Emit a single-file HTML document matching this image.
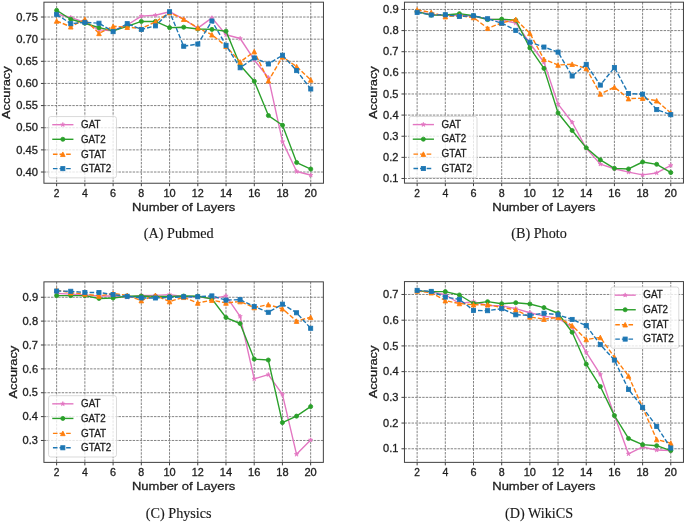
<!DOCTYPE html>
<html><head><meta charset="utf-8"><title>Accuracy vs Number of Layers</title>
<style>
html,body{margin:0;padding:0;background:#fff;}
body{width:685px;height:522px;overflow:hidden;}
svg{display:block;}
svg text{font-family:"Liberation Sans", sans-serif;fill:#1e1e1e;stroke:#1e1e1e;stroke-width:0.3px;}
svg text.cap{font-family:"Liberation Serif", serif;fill:#1a1a1a;stroke:#1a1a1a;stroke-width:0.15px;}
</style></head><body>
<svg width="685" height="522" viewBox="0 0 685 522">
<defs><filter id="bl" filterUnits="userSpaceOnUse" x="0" y="0" width="685" height="522"><feGaussianBlur stdDeviation="0.5"/></filter></defs>
<rect width="685" height="522" fill="#fff"/>
<g filter="url(#bl)">
<path d="M56.64 2.18V183.24 M84.87 2.18V183.24 M113.11 2.18V183.24 M141.35 2.18V183.24 M169.58 2.18V183.24 M197.82 2.18V183.24 M226.05 2.18V183.24 M254.29 2.18V183.24 M282.53 2.18V183.24 M310.76 2.18V183.24 M43.93 172.02H323.47 M43.93 149.88H323.47 M43.93 127.73H323.47 M43.93 105.59H323.47 M43.93 83.45H323.47 M43.93 61.31H323.47 M43.93 39.16H323.47 M43.93 17.02H323.47" stroke="#767676" stroke-width="0.9" stroke-dasharray="2.45,1.1" fill="none"/>
<clipPath id="clip0"><rect x="43.93" y="2.18" width="279.54" height="181.06"/></clipPath>
<g clip-path="url(#clip0)">
<path d="M56.64 13.92 L70.75 17.46 L84.87 22.33 L98.99 29.86 L113.11 30.75 L127.23 24.99 L141.35 16.13 L155.46 15.25 L169.58 11.71 L183.7 19.23 L197.82 28.09 L211.94 17.91 L226.05 34.73 L240.17 38.5 L254.29 59.98 L268.41 77.69 L282.53 141.6 L296.65 171.53 L310.76 175.12" stroke="#e377c2" stroke-width="1.4" fill="none" stroke-linejoin="round" stroke-linecap="square"/>
<polygon points="56.64,11.62 56.12,13.21 54.45,13.21 55.8,14.19 55.28,15.78 56.64,14.8 57.99,15.78 57.47,14.19 58.82,13.21 57.15,13.21" fill="#e377c2" stroke="#e377c2" stroke-width="0.68"/>
<polygon points="70.75,15.16 70.24,16.75 68.57,16.75 69.92,17.73 69.4,19.32 70.75,18.34 72.11,19.32 71.59,17.73 72.94,16.75 71.27,16.75" fill="#e377c2" stroke="#e377c2" stroke-width="0.68"/>
<polygon points="84.87,20.03 84.36,21.62 82.69,21.62 84.04,22.61 83.52,24.2 84.87,23.21 86.22,24.2 85.71,22.61 87.06,21.62 85.39,21.62" fill="#e377c2" stroke="#e377c2" stroke-width="0.68"/>
<polygon points="98.99,27.56 98.47,29.15 96.8,29.15 98.16,30.13 97.64,31.72 98.99,30.74 100.34,31.72 99.83,30.13 101.18,29.15 99.51,29.15" fill="#e377c2" stroke="#e377c2" stroke-width="0.68"/>
<polygon points="113.11,28.45 112.59,30.04 110.92,30.04 112.27,31.02 111.76,32.61 113.11,31.63 114.46,32.61 113.94,31.02 115.3,30.04 113.63,30.04" fill="#e377c2" stroke="#e377c2" stroke-width="0.68"/>
<polygon points="127.23,22.69 126.71,24.28 125.04,24.28 126.39,25.26 125.88,26.85 127.23,25.87 128.58,26.85 128.06,25.26 129.41,24.28 127.74,24.28" fill="#e377c2" stroke="#e377c2" stroke-width="0.68"/>
<polygon points="141.35,13.83 140.83,15.42 139.16,15.42 140.51,16.41 139.99,18 141.35,17.01 142.7,18 142.18,16.41 143.53,15.42 141.86,15.42" fill="#e377c2" stroke="#e377c2" stroke-width="0.68"/>
<polygon points="155.46,12.95 154.95,14.54 153.28,14.54 154.63,15.52 154.11,17.11 155.46,16.13 156.82,17.11 156.3,15.52 157.65,14.54 155.98,14.54" fill="#e377c2" stroke="#e377c2" stroke-width="0.68"/>
<polygon points="169.58,9.41 169.07,10.99 167.39,10.99 168.75,11.98 168.23,13.57 169.58,12.58 170.93,13.57 170.42,11.98 171.77,10.99 170.1,10.99" fill="#e377c2" stroke="#e377c2" stroke-width="0.68"/>
<polygon points="183.7,16.93 183.18,18.52 181.51,18.52 182.86,19.51 182.35,21.1 183.7,20.11 185.05,21.1 184.54,19.51 185.89,18.52 184.22,18.52" fill="#e377c2" stroke="#e377c2" stroke-width="0.68"/>
<polygon points="197.82,25.79 197.3,27.38 195.63,27.38 196.98,28.36 196.47,29.95 197.82,28.97 199.17,29.95 198.65,28.36 200.01,27.38 198.33,27.38" fill="#e377c2" stroke="#e377c2" stroke-width="0.68"/>
<polygon points="211.94,15.61 211.42,17.19 209.75,17.19 211.1,18.18 210.58,19.77 211.94,18.78 213.29,19.77 212.77,18.18 214.12,17.19 212.45,17.19" fill="#e377c2" stroke="#e377c2" stroke-width="0.68"/>
<polygon points="226.05,32.43 225.54,34.02 223.87,34.02 225.22,35.01 224.7,36.6 226.05,35.61 227.41,36.6 226.89,35.01 228.24,34.02 226.57,34.02" fill="#e377c2" stroke="#e377c2" stroke-width="0.68"/>
<polygon points="240.17,36.2 239.66,37.79 237.99,37.79 239.34,38.77 238.82,40.36 240.17,39.38 241.52,40.36 241.01,38.77 242.36,37.79 240.69,37.79" fill="#e377c2" stroke="#e377c2" stroke-width="0.68"/>
<polygon points="254.29,57.68 253.77,59.27 252.1,59.27 253.46,60.25 252.94,61.84 254.29,60.86 255.64,61.84 255.13,60.25 256.48,59.27 254.81,59.27" fill="#e377c2" stroke="#e377c2" stroke-width="0.68"/>
<polygon points="268.41,75.39 267.89,76.98 266.22,76.98 267.57,77.96 267.06,79.55 268.41,78.57 269.76,79.55 269.24,77.96 270.6,76.98 268.93,76.98" fill="#e377c2" stroke="#e377c2" stroke-width="0.68"/>
<polygon points="282.53,139.3 282.01,140.88 280.34,140.88 281.69,141.87 281.18,143.46 282.53,142.47 283.88,143.46 283.36,141.87 284.71,140.88 283.04,140.88" fill="#e377c2" stroke="#e377c2" stroke-width="0.68"/>
<polygon points="296.65,169.23 296.13,170.82 294.46,170.82 295.81,171.8 295.29,173.39 296.65,172.41 298,173.39 297.48,171.8 298.83,170.82 297.16,170.82" fill="#e377c2" stroke="#e377c2" stroke-width="0.68"/>
<polygon points="310.76,172.82 310.25,174.41 308.58,174.41 309.93,175.39 309.41,176.98 310.76,176 312.12,176.98 311.6,175.39 312.95,174.41 311.28,174.41" fill="#e377c2" stroke="#e377c2" stroke-width="0.68"/>
<path d="M56.64 10.38 L70.75 19.23 L84.87 23.22 L98.99 27.65 L113.11 30.75 L127.23 26.32 L141.35 21.45 L155.46 21.45 L169.58 27.65 L183.7 27.21 L197.82 28.98 L211.94 29.42 L226.05 31.19 L240.17 65.29 L254.29 81.23 L268.41 115.56 L282.53 125.21 L296.65 162.54 L310.76 169.1" stroke="#2ca02c" stroke-width="1.4" fill="none" stroke-linejoin="round" stroke-linecap="square"/>
<circle cx="56.64" cy="10.38" r="2.05" fill="#2ca02c" stroke="#2ca02c" stroke-width="0.85"/>
<circle cx="70.75" cy="19.23" r="2.05" fill="#2ca02c" stroke="#2ca02c" stroke-width="0.85"/>
<circle cx="84.87" cy="23.22" r="2.05" fill="#2ca02c" stroke="#2ca02c" stroke-width="0.85"/>
<circle cx="98.99" cy="27.65" r="2.05" fill="#2ca02c" stroke="#2ca02c" stroke-width="0.85"/>
<circle cx="113.11" cy="30.75" r="2.05" fill="#2ca02c" stroke="#2ca02c" stroke-width="0.85"/>
<circle cx="127.23" cy="26.32" r="2.05" fill="#2ca02c" stroke="#2ca02c" stroke-width="0.85"/>
<circle cx="141.35" cy="21.45" r="2.05" fill="#2ca02c" stroke="#2ca02c" stroke-width="0.85"/>
<circle cx="155.46" cy="21.45" r="2.05" fill="#2ca02c" stroke="#2ca02c" stroke-width="0.85"/>
<circle cx="169.58" cy="27.65" r="2.05" fill="#2ca02c" stroke="#2ca02c" stroke-width="0.85"/>
<circle cx="183.7" cy="27.21" r="2.05" fill="#2ca02c" stroke="#2ca02c" stroke-width="0.85"/>
<circle cx="197.82" cy="28.98" r="2.05" fill="#2ca02c" stroke="#2ca02c" stroke-width="0.85"/>
<circle cx="211.94" cy="29.42" r="2.05" fill="#2ca02c" stroke="#2ca02c" stroke-width="0.85"/>
<circle cx="226.05" cy="31.19" r="2.05" fill="#2ca02c" stroke="#2ca02c" stroke-width="0.85"/>
<circle cx="240.17" cy="65.29" r="2.05" fill="#2ca02c" stroke="#2ca02c" stroke-width="0.85"/>
<circle cx="254.29" cy="81.23" r="2.05" fill="#2ca02c" stroke="#2ca02c" stroke-width="0.85"/>
<circle cx="268.41" cy="115.56" r="2.05" fill="#2ca02c" stroke="#2ca02c" stroke-width="0.85"/>
<circle cx="282.53" cy="125.21" r="2.05" fill="#2ca02c" stroke="#2ca02c" stroke-width="0.85"/>
<circle cx="296.65" cy="162.54" r="2.05" fill="#2ca02c" stroke="#2ca02c" stroke-width="0.85"/>
<circle cx="310.76" cy="169.1" r="2.05" fill="#2ca02c" stroke="#2ca02c" stroke-width="0.85"/>
<path d="M56.64 21.01 L70.75 26.76 L84.87 19.23 L98.99 33.41 L113.11 26.32 L127.23 27.21 L141.35 28.53 L155.46 21.89 L169.58 12.59 L183.7 19.23 L197.82 27.87 L211.94 34.73 L226.05 46.25 L240.17 61.97 L254.29 51.56 L268.41 80.79 L282.53 56.88 L296.65 66.62 L310.76 79.91" stroke="#ff7f0e" stroke-width="1.4" fill="none" stroke-linejoin="round" stroke-dasharray="4.6,2.0"/>
<polygon points="56.64,18.71 54.34,23.3 58.93,23.3" fill="#ff7f0e" stroke="#ff7f0e" stroke-width="0.85"/>
<polygon points="70.75,24.47 68.46,29.06 73.05,29.06" fill="#ff7f0e" stroke="#ff7f0e" stroke-width="0.85"/>
<polygon points="84.87,16.94 82.58,21.53 87.17,21.53" fill="#ff7f0e" stroke="#ff7f0e" stroke-width="0.85"/>
<polygon points="98.99,31.11 96.69,35.7 101.29,35.7" fill="#ff7f0e" stroke="#ff7f0e" stroke-width="0.85"/>
<polygon points="113.11,24.02 110.81,28.62 115.41,28.62" fill="#ff7f0e" stroke="#ff7f0e" stroke-width="0.85"/>
<polygon points="127.23,24.91 124.93,29.5 129.52,29.5" fill="#ff7f0e" stroke="#ff7f0e" stroke-width="0.85"/>
<polygon points="141.35,26.24 139.05,30.83 143.64,30.83" fill="#ff7f0e" stroke="#ff7f0e" stroke-width="0.85"/>
<polygon points="155.46,19.6 153.17,24.19 157.76,24.19" fill="#ff7f0e" stroke="#ff7f0e" stroke-width="0.85"/>
<polygon points="169.58,10.3 167.29,14.89 171.88,14.89" fill="#ff7f0e" stroke="#ff7f0e" stroke-width="0.85"/>
<polygon points="183.7,16.94 181.4,21.53 186,21.53" fill="#ff7f0e" stroke="#ff7f0e" stroke-width="0.85"/>
<polygon points="197.82,25.57 195.52,30.17 200.11,30.17" fill="#ff7f0e" stroke="#ff7f0e" stroke-width="0.85"/>
<polygon points="211.94,32.44 209.64,37.03 214.23,37.03" fill="#ff7f0e" stroke="#ff7f0e" stroke-width="0.85"/>
<polygon points="226.05,43.95 223.76,48.54 228.35,48.54" fill="#ff7f0e" stroke="#ff7f0e" stroke-width="0.85"/>
<polygon points="240.17,59.67 237.88,64.27 242.47,64.27" fill="#ff7f0e" stroke="#ff7f0e" stroke-width="0.85"/>
<polygon points="254.29,49.27 251.99,53.86 256.59,53.86" fill="#ff7f0e" stroke="#ff7f0e" stroke-width="0.85"/>
<polygon points="268.41,78.5 266.11,83.09 270.71,83.09" fill="#ff7f0e" stroke="#ff7f0e" stroke-width="0.85"/>
<polygon points="282.53,54.58 280.23,59.17 284.82,59.17" fill="#ff7f0e" stroke="#ff7f0e" stroke-width="0.85"/>
<polygon points="296.65,64.32 294.35,68.92 298.94,68.92" fill="#ff7f0e" stroke="#ff7f0e" stroke-width="0.85"/>
<polygon points="310.76,77.61 308.47,82.2 313.06,82.2" fill="#ff7f0e" stroke="#ff7f0e" stroke-width="0.85"/>
<path d="M56.64 14.36 L70.75 23.66 L84.87 22.33 L98.99 23.22 L113.11 31.63 L127.23 23.66 L141.35 29.42 L155.46 25.88 L169.58 11.71 L183.7 46.25 L197.82 44.03 L211.94 21.01 L226.05 45.36 L240.17 67.77 L254.29 57.94 L268.41 63.96 L282.53 55.24 L296.65 70.61 L310.76 88.98" stroke="#1f77b4" stroke-width="1.4" fill="none" stroke-linejoin="round" stroke-dasharray="4.6,2.0"/>
<rect x="54.59" y="12.31" width="4.1" height="4.1" fill="#1f77b4" stroke="#1f77b4" stroke-width="0.85"/>
<rect x="68.7" y="21.61" width="4.1" height="4.1" fill="#1f77b4" stroke="#1f77b4" stroke-width="0.85"/>
<rect x="82.82" y="20.28" width="4.1" height="4.1" fill="#1f77b4" stroke="#1f77b4" stroke-width="0.85"/>
<rect x="96.94" y="21.17" width="4.1" height="4.1" fill="#1f77b4" stroke="#1f77b4" stroke-width="0.85"/>
<rect x="111.06" y="29.58" width="4.1" height="4.1" fill="#1f77b4" stroke="#1f77b4" stroke-width="0.85"/>
<rect x="125.18" y="21.61" width="4.1" height="4.1" fill="#1f77b4" stroke="#1f77b4" stroke-width="0.85"/>
<rect x="139.3" y="27.37" width="4.1" height="4.1" fill="#1f77b4" stroke="#1f77b4" stroke-width="0.85"/>
<rect x="153.41" y="23.83" width="4.1" height="4.1" fill="#1f77b4" stroke="#1f77b4" stroke-width="0.85"/>
<rect x="167.53" y="9.66" width="4.1" height="4.1" fill="#1f77b4" stroke="#1f77b4" stroke-width="0.85"/>
<rect x="181.65" y="44.2" width="4.1" height="4.1" fill="#1f77b4" stroke="#1f77b4" stroke-width="0.85"/>
<rect x="195.77" y="41.98" width="4.1" height="4.1" fill="#1f77b4" stroke="#1f77b4" stroke-width="0.85"/>
<rect x="209.89" y="18.96" width="4.1" height="4.1" fill="#1f77b4" stroke="#1f77b4" stroke-width="0.85"/>
<rect x="224" y="43.31" width="4.1" height="4.1" fill="#1f77b4" stroke="#1f77b4" stroke-width="0.85"/>
<rect x="238.12" y="65.72" width="4.1" height="4.1" fill="#1f77b4" stroke="#1f77b4" stroke-width="0.85"/>
<rect x="252.24" y="55.89" width="4.1" height="4.1" fill="#1f77b4" stroke="#1f77b4" stroke-width="0.85"/>
<rect x="266.36" y="61.91" width="4.1" height="4.1" fill="#1f77b4" stroke="#1f77b4" stroke-width="0.85"/>
<rect x="280.48" y="53.19" width="4.1" height="4.1" fill="#1f77b4" stroke="#1f77b4" stroke-width="0.85"/>
<rect x="294.6" y="68.56" width="4.1" height="4.1" fill="#1f77b4" stroke="#1f77b4" stroke-width="0.85"/>
<rect x="308.71" y="86.93" width="4.1" height="4.1" fill="#1f77b4" stroke="#1f77b4" stroke-width="0.85"/>
</g>
<rect x="43.93" y="2.18" width="279.54" height="181.06" fill="none" stroke="#404040" stroke-width="1.0"/>
<path d="M56.64 183.24v3 M84.87 183.24v3 M113.11 183.24v3 M141.35 183.24v3 M169.58 183.24v3 M197.82 183.24v3 M226.05 183.24v3 M254.29 183.24v3 M282.53 183.24v3 M310.76 183.24v3 M43.93 172.02h-3 M43.93 149.88h-3 M43.93 127.73h-3 M43.93 105.59h-3 M43.93 83.45h-3 M43.93 61.31h-3 M43.93 39.16h-3 M43.93 17.02h-3" stroke="#404040" stroke-width="1.0" fill="none"/>
<text x="53.68" y="196.79" font-size="10.6" textLength="5.65" lengthAdjust="spacingAndGlyphs">2</text>
<text x="81.94" y="196.79" font-size="10.6" textLength="5.86" lengthAdjust="spacingAndGlyphs">4</text>
<text x="110.07" y="196.79" font-size="10.6" textLength="6.07" lengthAdjust="spacingAndGlyphs">6</text>
<text x="138.38" y="196.79" font-size="10.6" textLength="5.93" lengthAdjust="spacingAndGlyphs">8</text>
<text x="163.48" y="196.79" font-size="10.6" textLength="12.23" lengthAdjust="spacingAndGlyphs">10</text>
<text x="191.73" y="196.79" font-size="10.6" textLength="11.99" lengthAdjust="spacingAndGlyphs">12</text>
<text x="219.95" y="196.79" font-size="10.6" textLength="12.22" lengthAdjust="spacingAndGlyphs">14</text>
<text x="248.18" y="196.79" font-size="10.6" textLength="12.33" lengthAdjust="spacingAndGlyphs">16</text>
<text x="276.42" y="196.79" font-size="10.6" textLength="12.26" lengthAdjust="spacingAndGlyphs">18</text>
<text x="304.58" y="196.79" font-size="10.6" textLength="12.32" lengthAdjust="spacingAndGlyphs">20</text>
<text x="16.24" y="175.67" font-size="10.6" textLength="21.82" lengthAdjust="spacingAndGlyphs">0.40</text>
<text x="16.24" y="153.53" font-size="10.6" textLength="21.63" lengthAdjust="spacingAndGlyphs">0.45</text>
<text x="16.24" y="131.38" font-size="10.6" textLength="21.82" lengthAdjust="spacingAndGlyphs">0.50</text>
<text x="16.24" y="109.24" font-size="10.6" textLength="21.63" lengthAdjust="spacingAndGlyphs">0.55</text>
<text x="16.24" y="87.1" font-size="10.6" textLength="21.82" lengthAdjust="spacingAndGlyphs">0.60</text>
<text x="16.24" y="64.96" font-size="10.6" textLength="21.63" lengthAdjust="spacingAndGlyphs">0.65</text>
<text x="16.24" y="42.81" font-size="10.6" textLength="21.82" lengthAdjust="spacingAndGlyphs">0.70</text>
<text x="16.24" y="20.67" font-size="10.6" textLength="21.63" lengthAdjust="spacingAndGlyphs">0.75</text>
<text x="132" y="210.79" font-size="11.7" textLength="103.37" lengthAdjust="spacingAndGlyphs">Number of Layers</text>
<text transform="translate(10.31 92.71) rotate(-90)" x="-26.39" y="0" font-size="11.7" textLength="52.78" lengthAdjust="spacingAndGlyphs">Accuracy</text>
<rect x="48.58" y="116.54" width="67.9" height="61.3" rx="2.2" ry="2.2" fill="#fff" fill-opacity="0.8" stroke="#d6d6d6" stroke-width="0.9"/>
<path d="M52.93 124.69H72.73" stroke="#e377c2" stroke-width="1.4" fill="none" stroke-linecap="square"/>
<polygon points="62.83,122.39 62.31,123.98 60.64,123.98 61.99,124.96 61.48,126.55 62.83,125.57 64.18,126.55 63.67,124.96 65.02,123.98 63.35,123.98" fill="#e377c2" stroke="#e377c2" stroke-width="0.68"/>
<text x="81.03" y="127.99" font-size="10" textLength="19.45" lengthAdjust="spacingAndGlyphs">GAT</text>
<path d="M52.93 139.29H72.73" stroke="#2ca02c" stroke-width="1.4" fill="none" stroke-linecap="square"/>
<circle cx="62.83" cy="139.29" r="2.05" fill="#2ca02c" stroke="#2ca02c" stroke-width="0.85"/>
<text x="81.03" y="142.59" font-size="10" textLength="24.66" lengthAdjust="spacingAndGlyphs">GAT2</text>
<path d="M52.93 154.24H72.73" stroke="#ff7f0e" stroke-width="1.4" fill="none" stroke-dasharray="4.6,2.0"/>
<polygon points="62.83,151.94 60.53,156.54 65.13,156.54" fill="#ff7f0e" stroke="#ff7f0e" stroke-width="0.85"/>
<text x="81.03" y="157.54" font-size="10" textLength="25.13" lengthAdjust="spacingAndGlyphs">GTAT</text>
<path d="M52.93 168.64H72.73" stroke="#1f77b4" stroke-width="1.4" fill="none" stroke-dasharray="4.6,2.0"/>
<rect x="60.78" y="166.59" width="4.1" height="4.1" fill="#1f77b4" stroke="#1f77b4" stroke-width="0.85"/>
<text x="81.03" y="171.94" font-size="10" textLength="30.34" lengthAdjust="spacingAndGlyphs">GTAT2</text>
<text x="178.7" y="238" font-size="14.2" text-anchor="middle" class="cap">(A) Pubmed</text>
<path d="M417.14 2.18V183.13 M445.32 2.18V183.13 M473.51 2.18V183.13 M501.69 2.18V183.13 M529.87 2.18V183.13 M558.05 2.18V183.13 M586.23 2.18V183.13 M614.41 2.18V183.13 M642.6 2.18V183.13 M670.78 2.18V183.13 M404.46 178.48H683.46 M404.46 157.35H683.46 M404.46 136.22H683.46 M404.46 115.09H683.46 M404.46 93.97H683.46 M404.46 72.84H683.46 M404.46 51.71H683.46 M404.46 30.58H683.46 M404.46 9.45H683.46" stroke="#767676" stroke-width="0.9" stroke-dasharray="2.45,1.1" fill="none"/>
<clipPath id="clip1"><rect x="404.46" y="2.18" width="279" height="180.95"/></clipPath>
<g clip-path="url(#clip1)">
<path d="M417.14 11.56 L431.23 14.52 L445.32 15.37 L459.41 14.94 L473.51 16.21 L487.6 18.96 L501.69 20.01 L515.78 22.97 L529.87 43.26 L543.96 62.27 L558.05 104.11 L572.14 122.28 L586.23 148.27 L600.32 164.11 L614.41 168.76 L628.51 172.14 L642.6 174.89 L656.69 172.99 L670.78 165.38" stroke="#e377c2" stroke-width="1.4" fill="none" stroke-linejoin="round" stroke-linecap="square"/>
<polygon points="417.14,9.26 416.63,10.85 414.95,10.85 416.31,11.83 415.79,13.42 417.14,12.44 418.49,13.42 417.98,11.83 419.33,10.85 417.66,10.85" fill="#e377c2" stroke="#e377c2" stroke-width="0.68"/>
<polygon points="431.23,12.22 430.72,13.81 429.05,13.81 430.4,14.79 429.88,16.38 431.23,15.4 432.58,16.38 432.07,14.79 433.42,13.81 431.75,13.81" fill="#e377c2" stroke="#e377c2" stroke-width="0.68"/>
<polygon points="445.32,13.07 444.81,14.66 443.14,14.66 444.49,15.64 443.97,17.23 445.32,16.24 446.68,17.23 446.16,15.64 447.51,14.66 445.84,14.66" fill="#e377c2" stroke="#e377c2" stroke-width="0.68"/>
<polygon points="459.41,12.64 458.9,14.23 457.23,14.23 458.58,15.21 458.06,16.8 459.41,15.82 460.77,16.8 460.25,15.21 461.6,14.23 459.93,14.23" fill="#e377c2" stroke="#e377c2" stroke-width="0.68"/>
<polygon points="473.51,13.91 472.99,15.5 471.32,15.5 472.67,16.48 472.15,18.07 473.51,17.09 474.86,18.07 474.34,16.48 475.69,15.5 474.02,15.5" fill="#e377c2" stroke="#e377c2" stroke-width="0.68"/>
<polygon points="487.6,16.66 487.08,18.25 485.41,18.25 486.76,19.23 486.24,20.82 487.6,19.84 488.95,20.82 488.43,19.23 489.78,18.25 488.11,18.25" fill="#e377c2" stroke="#e377c2" stroke-width="0.68"/>
<polygon points="501.69,17.71 501.17,19.3 499.5,19.3 500.85,20.29 500.34,21.88 501.69,20.89 503.04,21.88 502.52,20.29 503.87,19.3 502.2,19.3" fill="#e377c2" stroke="#e377c2" stroke-width="0.68"/>
<polygon points="515.78,20.67 515.26,22.26 513.59,22.26 514.94,23.24 514.43,24.83 515.78,23.85 517.13,24.83 516.61,23.24 517.97,22.26 516.29,22.26" fill="#e377c2" stroke="#e377c2" stroke-width="0.68"/>
<polygon points="529.87,40.96 529.35,42.55 527.68,42.55 529.03,43.53 528.52,45.12 529.87,44.13 531.22,45.12 530.7,43.53 532.06,42.55 530.39,42.55" fill="#e377c2" stroke="#e377c2" stroke-width="0.68"/>
<polygon points="543.96,59.97 543.44,61.56 541.77,61.56 543.12,62.54 542.61,64.13 543.96,63.15 545.31,64.13 544.8,62.54 546.15,61.56 544.48,61.56" fill="#e377c2" stroke="#e377c2" stroke-width="0.68"/>
<polygon points="558.05,101.81 557.53,103.4 555.86,103.4 557.22,104.38 556.7,105.97 558.05,104.99 559.4,105.97 558.89,104.38 560.24,103.4 558.57,103.4" fill="#e377c2" stroke="#e377c2" stroke-width="0.68"/>
<polygon points="572.14,119.98 571.63,121.57 569.95,121.57 571.31,122.55 570.79,124.14 572.14,123.16 573.49,124.14 572.98,122.55 574.33,121.57 572.66,121.57" fill="#e377c2" stroke="#e377c2" stroke-width="0.68"/>
<polygon points="586.23,145.97 585.72,147.56 584.05,147.56 585.4,148.54 584.88,150.13 586.23,149.14 587.58,150.13 587.07,148.54 588.42,147.56 586.75,147.56" fill="#e377c2" stroke="#e377c2" stroke-width="0.68"/>
<polygon points="600.32,161.81 599.81,163.4 598.14,163.4 599.49,164.38 598.97,165.97 600.32,164.99 601.68,165.97 601.16,164.38 602.51,163.4 600.84,163.4" fill="#e377c2" stroke="#e377c2" stroke-width="0.68"/>
<polygon points="614.41,166.46 613.9,168.05 612.23,168.05 613.58,169.03 613.06,170.62 614.41,169.64 615.77,170.62 615.25,169.03 616.6,168.05 614.93,168.05" fill="#e377c2" stroke="#e377c2" stroke-width="0.68"/>
<polygon points="628.51,169.84 627.99,171.43 626.32,171.43 627.67,172.41 627.15,174 628.51,173.02 629.86,174 629.34,172.41 630.69,171.43 629.02,171.43" fill="#e377c2" stroke="#e377c2" stroke-width="0.68"/>
<polygon points="642.6,172.59 642.08,174.18 640.41,174.18 641.76,175.16 641.24,176.75 642.6,175.77 643.95,176.75 643.43,175.16 644.78,174.18 643.11,174.18" fill="#e377c2" stroke="#e377c2" stroke-width="0.68"/>
<polygon points="656.69,170.69 656.17,172.28 654.5,172.28 655.85,173.26 655.34,174.85 656.69,173.87 658.04,174.85 657.52,173.26 658.87,172.28 657.2,172.28" fill="#e377c2" stroke="#e377c2" stroke-width="0.68"/>
<polygon points="670.78,163.08 670.26,164.67 668.59,164.67 669.94,165.65 669.43,167.24 670.78,166.26 672.13,167.24 671.61,165.65 672.97,164.67 671.29,164.67" fill="#e377c2" stroke="#e377c2" stroke-width="0.68"/>
<path d="M417.14 11.56 L431.23 15.15 L445.32 14.94 L459.41 13.68 L473.51 15.79 L487.6 19.59 L501.69 19.17 L515.78 20.23 L529.87 47.9 L543.96 68.4 L558.05 112.98 L572.14 130.52 L586.23 147.84 L600.32 159.89 L614.41 168.34 L628.51 168.97 L642.6 162 L656.69 164.32 L670.78 172.56" stroke="#2ca02c" stroke-width="1.4" fill="none" stroke-linejoin="round" stroke-linecap="square"/>
<circle cx="417.14" cy="11.56" r="2.05" fill="#2ca02c" stroke="#2ca02c" stroke-width="0.85"/>
<circle cx="431.23" cy="15.15" r="2.05" fill="#2ca02c" stroke="#2ca02c" stroke-width="0.85"/>
<circle cx="445.32" cy="14.94" r="2.05" fill="#2ca02c" stroke="#2ca02c" stroke-width="0.85"/>
<circle cx="459.41" cy="13.68" r="2.05" fill="#2ca02c" stroke="#2ca02c" stroke-width="0.85"/>
<circle cx="473.51" cy="15.79" r="2.05" fill="#2ca02c" stroke="#2ca02c" stroke-width="0.85"/>
<circle cx="487.6" cy="19.59" r="2.05" fill="#2ca02c" stroke="#2ca02c" stroke-width="0.85"/>
<circle cx="501.69" cy="19.17" r="2.05" fill="#2ca02c" stroke="#2ca02c" stroke-width="0.85"/>
<circle cx="515.78" cy="20.23" r="2.05" fill="#2ca02c" stroke="#2ca02c" stroke-width="0.85"/>
<circle cx="529.87" cy="47.9" r="2.05" fill="#2ca02c" stroke="#2ca02c" stroke-width="0.85"/>
<circle cx="543.96" cy="68.4" r="2.05" fill="#2ca02c" stroke="#2ca02c" stroke-width="0.85"/>
<circle cx="558.05" cy="112.98" r="2.05" fill="#2ca02c" stroke="#2ca02c" stroke-width="0.85"/>
<circle cx="572.14" cy="130.52" r="2.05" fill="#2ca02c" stroke="#2ca02c" stroke-width="0.85"/>
<circle cx="586.23" cy="147.84" r="2.05" fill="#2ca02c" stroke="#2ca02c" stroke-width="0.85"/>
<circle cx="600.32" cy="159.89" r="2.05" fill="#2ca02c" stroke="#2ca02c" stroke-width="0.85"/>
<circle cx="614.41" cy="168.34" r="2.05" fill="#2ca02c" stroke="#2ca02c" stroke-width="0.85"/>
<circle cx="628.51" cy="168.97" r="2.05" fill="#2ca02c" stroke="#2ca02c" stroke-width="0.85"/>
<circle cx="642.6" cy="162" r="2.05" fill="#2ca02c" stroke="#2ca02c" stroke-width="0.85"/>
<circle cx="656.69" cy="164.32" r="2.05" fill="#2ca02c" stroke="#2ca02c" stroke-width="0.85"/>
<circle cx="670.78" cy="172.56" r="2.05" fill="#2ca02c" stroke="#2ca02c" stroke-width="0.85"/>
<path d="M417.14 9.87 L431.23 12.41 L445.32 16.63 L459.41 15.79 L473.51 17.48 L487.6 28.25 L501.69 22.97 L515.78 19.38 L529.87 33.33 L543.96 59.31 L558.05 65.02 L572.14 64.17 L586.23 68.4 L600.32 93.97 L614.41 87.2 L628.51 98.61 L642.6 98.19 L656.69 100.73 L670.78 112.98" stroke="#ff7f0e" stroke-width="1.4" fill="none" stroke-linejoin="round" stroke-dasharray="4.6,2.0"/>
<polygon points="417.14,7.58 414.85,12.17 419.44,12.17" fill="#ff7f0e" stroke="#ff7f0e" stroke-width="0.85"/>
<polygon points="431.23,10.11 428.94,14.7 433.53,14.7" fill="#ff7f0e" stroke="#ff7f0e" stroke-width="0.85"/>
<polygon points="445.32,14.34 443.03,18.93 447.62,18.93" fill="#ff7f0e" stroke="#ff7f0e" stroke-width="0.85"/>
<polygon points="459.41,13.49 457.12,18.08 461.71,18.08" fill="#ff7f0e" stroke="#ff7f0e" stroke-width="0.85"/>
<polygon points="473.51,15.18 471.21,19.77 475.8,19.77" fill="#ff7f0e" stroke="#ff7f0e" stroke-width="0.85"/>
<polygon points="487.6,25.96 485.3,30.55 489.89,30.55" fill="#ff7f0e" stroke="#ff7f0e" stroke-width="0.85"/>
<polygon points="501.69,20.68 499.39,25.27 503.98,25.27" fill="#ff7f0e" stroke="#ff7f0e" stroke-width="0.85"/>
<polygon points="515.78,17.08 513.48,21.68 518.07,21.68" fill="#ff7f0e" stroke="#ff7f0e" stroke-width="0.85"/>
<polygon points="529.87,31.03 527.57,35.62 532.17,35.62" fill="#ff7f0e" stroke="#ff7f0e" stroke-width="0.85"/>
<polygon points="543.96,57.02 541.66,61.61 546.26,61.61" fill="#ff7f0e" stroke="#ff7f0e" stroke-width="0.85"/>
<polygon points="558.05,62.72 555.75,67.31 560.35,67.31" fill="#ff7f0e" stroke="#ff7f0e" stroke-width="0.85"/>
<polygon points="572.14,61.88 569.85,66.47 574.44,66.47" fill="#ff7f0e" stroke="#ff7f0e" stroke-width="0.85"/>
<polygon points="586.23,66.1 583.94,70.7 588.53,70.7" fill="#ff7f0e" stroke="#ff7f0e" stroke-width="0.85"/>
<polygon points="600.32,91.67 598.03,96.26 602.62,96.26" fill="#ff7f0e" stroke="#ff7f0e" stroke-width="0.85"/>
<polygon points="614.41,84.91 612.12,89.5 616.71,89.5" fill="#ff7f0e" stroke="#ff7f0e" stroke-width="0.85"/>
<polygon points="628.51,96.32 626.21,100.91 630.8,100.91" fill="#ff7f0e" stroke="#ff7f0e" stroke-width="0.85"/>
<polygon points="642.6,95.89 640.3,100.49 644.89,100.49" fill="#ff7f0e" stroke="#ff7f0e" stroke-width="0.85"/>
<polygon points="656.69,98.43 654.39,103.02 658.98,103.02" fill="#ff7f0e" stroke="#ff7f0e" stroke-width="0.85"/>
<polygon points="670.78,110.68 668.48,115.28 673.07,115.28" fill="#ff7f0e" stroke="#ff7f0e" stroke-width="0.85"/>
<path d="M417.14 12.41 L431.23 14.94 L445.32 14.73 L459.41 16.42 L473.51 15.79 L487.6 18.75 L501.69 23.18 L515.78 30.37 L529.87 42.2 L543.96 47.06 L558.05 52.13 L572.14 76.01 L586.23 64.38 L600.32 85.09 L614.41 67.55 L628.51 93.54 L642.6 94.18 L656.69 109.6 L670.78 114.67" stroke="#1f77b4" stroke-width="1.4" fill="none" stroke-linejoin="round" stroke-dasharray="4.6,2.0"/>
<rect x="415.09" y="10.36" width="4.1" height="4.1" fill="#1f77b4" stroke="#1f77b4" stroke-width="0.85"/>
<rect x="429.18" y="12.89" width="4.1" height="4.1" fill="#1f77b4" stroke="#1f77b4" stroke-width="0.85"/>
<rect x="443.27" y="12.68" width="4.1" height="4.1" fill="#1f77b4" stroke="#1f77b4" stroke-width="0.85"/>
<rect x="457.36" y="14.37" width="4.1" height="4.1" fill="#1f77b4" stroke="#1f77b4" stroke-width="0.85"/>
<rect x="471.46" y="13.74" width="4.1" height="4.1" fill="#1f77b4" stroke="#1f77b4" stroke-width="0.85"/>
<rect x="485.55" y="16.7" width="4.1" height="4.1" fill="#1f77b4" stroke="#1f77b4" stroke-width="0.85"/>
<rect x="499.64" y="21.13" width="4.1" height="4.1" fill="#1f77b4" stroke="#1f77b4" stroke-width="0.85"/>
<rect x="513.73" y="28.32" width="4.1" height="4.1" fill="#1f77b4" stroke="#1f77b4" stroke-width="0.85"/>
<rect x="527.82" y="40.15" width="4.1" height="4.1" fill="#1f77b4" stroke="#1f77b4" stroke-width="0.85"/>
<rect x="541.91" y="45.01" width="4.1" height="4.1" fill="#1f77b4" stroke="#1f77b4" stroke-width="0.85"/>
<rect x="556" y="50.08" width="4.1" height="4.1" fill="#1f77b4" stroke="#1f77b4" stroke-width="0.85"/>
<rect x="570.09" y="73.96" width="4.1" height="4.1" fill="#1f77b4" stroke="#1f77b4" stroke-width="0.85"/>
<rect x="584.18" y="62.33" width="4.1" height="4.1" fill="#1f77b4" stroke="#1f77b4" stroke-width="0.85"/>
<rect x="598.27" y="83.04" width="4.1" height="4.1" fill="#1f77b4" stroke="#1f77b4" stroke-width="0.85"/>
<rect x="612.36" y="65.5" width="4.1" height="4.1" fill="#1f77b4" stroke="#1f77b4" stroke-width="0.85"/>
<rect x="626.46" y="91.49" width="4.1" height="4.1" fill="#1f77b4" stroke="#1f77b4" stroke-width="0.85"/>
<rect x="640.55" y="92.13" width="4.1" height="4.1" fill="#1f77b4" stroke="#1f77b4" stroke-width="0.85"/>
<rect x="654.64" y="107.55" width="4.1" height="4.1" fill="#1f77b4" stroke="#1f77b4" stroke-width="0.85"/>
<rect x="668.73" y="112.62" width="4.1" height="4.1" fill="#1f77b4" stroke="#1f77b4" stroke-width="0.85"/>
</g>
<rect x="404.46" y="2.18" width="279" height="180.95" fill="none" stroke="#404040" stroke-width="1.0"/>
<path d="M417.14 183.13v3 M445.32 183.13v3 M473.51 183.13v3 M501.69 183.13v3 M529.87 183.13v3 M558.05 183.13v3 M586.23 183.13v3 M614.41 183.13v3 M642.6 183.13v3 M670.78 183.13v3 M404.46 178.48h-3 M404.46 157.35h-3 M404.46 136.22h-3 M404.46 115.09h-3 M404.46 93.97h-3 M404.46 72.84h-3 M404.46 51.71h-3 M404.46 30.58h-3 M404.46 9.45h-3" stroke="#404040" stroke-width="1.0" fill="none"/>
<text x="414.18" y="196.68" font-size="10.6" textLength="5.65" lengthAdjust="spacingAndGlyphs">2</text>
<text x="442.39" y="196.68" font-size="10.6" textLength="5.86" lengthAdjust="spacingAndGlyphs">4</text>
<text x="470.47" y="196.68" font-size="10.6" textLength="6.07" lengthAdjust="spacingAndGlyphs">6</text>
<text x="498.72" y="196.68" font-size="10.6" textLength="5.93" lengthAdjust="spacingAndGlyphs">8</text>
<text x="523.77" y="196.68" font-size="10.6" textLength="12.23" lengthAdjust="spacingAndGlyphs">10</text>
<text x="551.97" y="196.68" font-size="10.6" textLength="11.99" lengthAdjust="spacingAndGlyphs">12</text>
<text x="580.13" y="196.68" font-size="10.6" textLength="12.22" lengthAdjust="spacingAndGlyphs">14</text>
<text x="608.31" y="196.68" font-size="10.6" textLength="12.33" lengthAdjust="spacingAndGlyphs">16</text>
<text x="636.49" y="196.68" font-size="10.6" textLength="12.26" lengthAdjust="spacingAndGlyphs">18</text>
<text x="664.59" y="196.68" font-size="10.6" textLength="12.32" lengthAdjust="spacingAndGlyphs">20</text>
<text x="383.14" y="182.13" font-size="10.6" textLength="15.29" lengthAdjust="spacingAndGlyphs">0.1</text>
<text x="383.14" y="161" font-size="10.6" textLength="15.22" lengthAdjust="spacingAndGlyphs">0.2</text>
<text x="383.13" y="139.87" font-size="10.6" textLength="15.36" lengthAdjust="spacingAndGlyphs">0.3</text>
<text x="383.13" y="118.74" font-size="10.6" textLength="15.44" lengthAdjust="spacingAndGlyphs">0.4</text>
<text x="383.14" y="97.62" font-size="10.6" textLength="15.26" lengthAdjust="spacingAndGlyphs">0.5</text>
<text x="383.13" y="76.49" font-size="10.6" textLength="15.54" lengthAdjust="spacingAndGlyphs">0.6</text>
<text x="383.13" y="55.36" font-size="10.6" textLength="15.38" lengthAdjust="spacingAndGlyphs">0.7</text>
<text x="383.13" y="34.23" font-size="10.6" textLength="15.48" lengthAdjust="spacingAndGlyphs">0.8</text>
<text x="383.13" y="13.1" font-size="10.6" textLength="15.5" lengthAdjust="spacingAndGlyphs">0.9</text>
<text x="492.26" y="210.68" font-size="11.7" textLength="103.37" lengthAdjust="spacingAndGlyphs">Number of Layers</text>
<text transform="translate(377.21 92.66) rotate(-90)" x="-26.39" y="0" font-size="11.7" textLength="52.78" lengthAdjust="spacingAndGlyphs">Accuracy</text>
<rect x="409.11" y="116.43" width="67.9" height="61.3" rx="2.2" ry="2.2" fill="#fff" fill-opacity="0.8" stroke="#d6d6d6" stroke-width="0.9"/>
<path d="M413.46 124.58H433.26" stroke="#e377c2" stroke-width="1.4" fill="none" stroke-linecap="square"/>
<polygon points="423.36,122.28 422.84,123.87 421.17,123.87 422.52,124.85 422.01,126.44 423.36,125.46 424.71,126.44 424.2,124.85 425.55,123.87 423.88,123.87" fill="#e377c2" stroke="#e377c2" stroke-width="0.68"/>
<text x="441.56" y="127.88" font-size="10" textLength="19.45" lengthAdjust="spacingAndGlyphs">GAT</text>
<path d="M413.46 139.18H433.26" stroke="#2ca02c" stroke-width="1.4" fill="none" stroke-linecap="square"/>
<circle cx="423.36" cy="139.18" r="2.05" fill="#2ca02c" stroke="#2ca02c" stroke-width="0.85"/>
<text x="441.56" y="142.48" font-size="10" textLength="24.66" lengthAdjust="spacingAndGlyphs">GAT2</text>
<path d="M413.46 154.13H433.26" stroke="#ff7f0e" stroke-width="1.4" fill="none" stroke-dasharray="4.6,2.0"/>
<polygon points="423.36,151.83 421.06,156.43 425.66,156.43" fill="#ff7f0e" stroke="#ff7f0e" stroke-width="0.85"/>
<text x="441.56" y="157.43" font-size="10" textLength="25.13" lengthAdjust="spacingAndGlyphs">GTAT</text>
<path d="M413.46 168.53H433.26" stroke="#1f77b4" stroke-width="1.4" fill="none" stroke-dasharray="4.6,2.0"/>
<rect x="421.31" y="166.48" width="4.1" height="4.1" fill="#1f77b4" stroke="#1f77b4" stroke-width="0.85"/>
<text x="441.56" y="171.83" font-size="10" textLength="30.34" lengthAdjust="spacingAndGlyphs">GTAT2</text>
<text x="539" y="238" font-size="14.2" text-anchor="middle" class="cap">(B) Photo</text>
<path d="M56.63 281.86V462.38 M84.86 281.86V462.38 M113.08 281.86V462.38 M141.3 281.86V462.38 M169.53 281.86V462.38 M197.75 281.86V462.38 M225.98 281.86V462.38 M254.2 281.86V462.38 M282.42 281.86V462.38 M310.65 281.86V462.38 M43.93 440.48H323.35 M43.93 416.61H323.35 M43.93 392.74H323.35 M43.93 368.87H323.35 M43.93 344.99H323.35 M43.93 321.12H323.35 M43.93 297.25H323.35" stroke="#767676" stroke-width="0.9" stroke-dasharray="2.45,1.1" fill="none"/>
<clipPath id="clip2"><rect x="43.93" y="281.86" width="279.42" height="180.52"/></clipPath>
<g clip-path="url(#clip2)">
<path d="M56.63 293.43 L70.74 294.15 L84.86 294.86 L98.97 296.06 L113.08 296.06 L127.19 297.25 L141.3 295.34 L155.42 295.34 L169.53 294.62 L183.64 296.53 L197.75 296.53 L211.86 298.92 L225.98 295.91 L240.09 316.35 L254.2 378.89 L268.31 374.59 L282.42 394.41 L296.54 454.33 L310.65 440" stroke="#e377c2" stroke-width="1.4" fill="none" stroke-linejoin="round" stroke-linecap="square"/>
<polygon points="56.63,291.13 56.11,292.72 54.44,292.72 55.8,293.7 55.28,295.29 56.63,294.31 57.98,295.29 57.47,293.7 58.82,292.72 57.15,292.72" fill="#e377c2" stroke="#e377c2" stroke-width="0.68"/>
<polygon points="70.74,291.85 70.23,293.44 68.56,293.44 69.91,294.42 69.39,296.01 70.74,295.03 72.09,296.01 71.58,294.42 72.93,293.44 71.26,293.44" fill="#e377c2" stroke="#e377c2" stroke-width="0.68"/>
<polygon points="84.86,292.56 84.34,294.15 82.67,294.15 84.02,295.13 83.5,296.72 84.86,295.74 86.21,296.72 85.69,295.13 87.04,294.15 85.37,294.15" fill="#e377c2" stroke="#e377c2" stroke-width="0.68"/>
<polygon points="98.97,293.76 98.45,295.35 96.78,295.35 98.13,296.33 97.62,297.92 98.97,296.93 100.32,297.92 99.8,296.33 101.15,295.35 99.48,295.35" fill="#e377c2" stroke="#e377c2" stroke-width="0.68"/>
<polygon points="113.08,293.76 112.56,295.35 110.89,295.35 112.24,296.33 111.73,297.92 113.08,296.93 114.43,297.92 113.91,296.33 115.27,295.35 113.6,295.35" fill="#e377c2" stroke="#e377c2" stroke-width="0.68"/>
<polygon points="127.19,294.95 126.68,296.54 125,296.54 126.36,297.52 125.84,299.11 127.19,298.13 128.54,299.11 128.03,297.52 129.38,296.54 127.71,296.54" fill="#e377c2" stroke="#e377c2" stroke-width="0.68"/>
<polygon points="141.3,293.04 140.79,294.63 139.12,294.63 140.47,295.61 139.95,297.2 141.3,296.22 142.66,297.2 142.14,295.61 143.49,294.63 141.82,294.63" fill="#e377c2" stroke="#e377c2" stroke-width="0.68"/>
<polygon points="155.42,293.04 154.9,294.63 153.23,294.63 154.58,295.61 154.06,297.2 155.42,296.22 156.77,297.2 156.25,295.61 157.6,294.63 155.93,294.63" fill="#e377c2" stroke="#e377c2" stroke-width="0.68"/>
<polygon points="169.53,292.32 169.01,293.91 167.34,293.91 168.69,294.9 168.18,296.48 169.53,295.5 170.88,296.48 170.36,294.9 171.72,293.91 170.04,293.91" fill="#e377c2" stroke="#e377c2" stroke-width="0.68"/>
<polygon points="183.64,294.23 183.12,295.82 181.45,295.82 182.8,296.81 182.29,298.39 183.64,297.41 184.99,298.39 184.48,296.81 185.83,295.82 184.16,295.82" fill="#e377c2" stroke="#e377c2" stroke-width="0.68"/>
<polygon points="197.75,294.23 197.24,295.82 195.56,295.82 196.92,296.81 196.4,298.39 197.75,297.41 199.1,298.39 198.59,296.81 199.94,295.82 198.27,295.82" fill="#e377c2" stroke="#e377c2" stroke-width="0.68"/>
<polygon points="211.86,296.62 211.35,298.21 209.68,298.21 211.03,299.19 210.51,300.78 211.86,299.8 213.22,300.78 212.7,299.19 214.05,298.21 212.38,298.21" fill="#e377c2" stroke="#e377c2" stroke-width="0.68"/>
<polygon points="225.98,293.61 225.46,295.2 223.79,295.2 225.14,296.18 224.62,297.77 225.98,296.79 227.33,297.77 226.81,296.18 228.16,295.2 226.49,295.2" fill="#e377c2" stroke="#e377c2" stroke-width="0.68"/>
<polygon points="240.09,314.05 239.57,315.64 237.9,315.64 239.25,316.62 238.74,318.21 240.09,317.23 241.44,318.21 240.92,316.62 242.28,315.64 240.6,315.64" fill="#e377c2" stroke="#e377c2" stroke-width="0.68"/>
<polygon points="254.2,376.59 253.68,378.18 252.01,378.18 253.37,379.16 252.85,380.75 254.2,379.77 255.55,380.75 255.04,379.16 256.39,378.18 254.72,378.18" fill="#e377c2" stroke="#e377c2" stroke-width="0.68"/>
<polygon points="268.31,372.29 267.8,373.88 266.13,373.88 267.48,374.87 266.96,376.45 268.31,375.47 269.66,376.45 269.15,374.87 270.5,373.88 268.83,373.88" fill="#e377c2" stroke="#e377c2" stroke-width="0.68"/>
<polygon points="282.42,392.11 281.91,393.7 280.24,393.7 281.59,394.68 281.07,396.27 282.42,395.29 283.78,396.27 283.26,394.68 284.61,393.7 282.94,393.7" fill="#e377c2" stroke="#e377c2" stroke-width="0.68"/>
<polygon points="296.54,452.03 296.02,453.61 294.35,453.61 295.7,454.6 295.19,456.19 296.54,455.2 297.89,456.19 297.37,454.6 298.72,453.61 297.05,453.61" fill="#e377c2" stroke="#e377c2" stroke-width="0.68"/>
<polygon points="310.65,437.7 310.13,439.29 308.46,439.29 309.81,440.27 309.3,441.86 310.65,440.88 312,441.86 311.48,440.27 312.84,439.29 311.17,439.29" fill="#e377c2" stroke="#e377c2" stroke-width="0.68"/>
<path d="M56.63 295.58 L70.74 295.58 L84.86 295.58 L98.97 298.44 L113.08 297.97 L127.19 296.3 L141.3 296.06 L155.42 296.53 L169.53 296.53 L183.64 296.06 L197.75 296.3 L211.86 298.92 L225.98 317.54 L240.09 323.51 L254.2 359.08 L268.31 360.03 L282.42 422.58 L296.54 416.13 L310.65 406.58" stroke="#2ca02c" stroke-width="1.4" fill="none" stroke-linejoin="round" stroke-linecap="square"/>
<circle cx="56.63" cy="295.58" r="2.05" fill="#2ca02c" stroke="#2ca02c" stroke-width="0.85"/>
<circle cx="70.74" cy="295.58" r="2.05" fill="#2ca02c" stroke="#2ca02c" stroke-width="0.85"/>
<circle cx="84.86" cy="295.58" r="2.05" fill="#2ca02c" stroke="#2ca02c" stroke-width="0.85"/>
<circle cx="98.97" cy="298.44" r="2.05" fill="#2ca02c" stroke="#2ca02c" stroke-width="0.85"/>
<circle cx="113.08" cy="297.97" r="2.05" fill="#2ca02c" stroke="#2ca02c" stroke-width="0.85"/>
<circle cx="127.19" cy="296.3" r="2.05" fill="#2ca02c" stroke="#2ca02c" stroke-width="0.85"/>
<circle cx="141.3" cy="296.06" r="2.05" fill="#2ca02c" stroke="#2ca02c" stroke-width="0.85"/>
<circle cx="155.42" cy="296.53" r="2.05" fill="#2ca02c" stroke="#2ca02c" stroke-width="0.85"/>
<circle cx="169.53" cy="296.53" r="2.05" fill="#2ca02c" stroke="#2ca02c" stroke-width="0.85"/>
<circle cx="183.64" cy="296.06" r="2.05" fill="#2ca02c" stroke="#2ca02c" stroke-width="0.85"/>
<circle cx="197.75" cy="296.3" r="2.05" fill="#2ca02c" stroke="#2ca02c" stroke-width="0.85"/>
<circle cx="211.86" cy="298.92" r="2.05" fill="#2ca02c" stroke="#2ca02c" stroke-width="0.85"/>
<circle cx="225.98" cy="317.54" r="2.05" fill="#2ca02c" stroke="#2ca02c" stroke-width="0.85"/>
<circle cx="240.09" cy="323.51" r="2.05" fill="#2ca02c" stroke="#2ca02c" stroke-width="0.85"/>
<circle cx="254.2" cy="359.08" r="2.05" fill="#2ca02c" stroke="#2ca02c" stroke-width="0.85"/>
<circle cx="268.31" cy="360.03" r="2.05" fill="#2ca02c" stroke="#2ca02c" stroke-width="0.85"/>
<circle cx="282.42" cy="422.58" r="2.05" fill="#2ca02c" stroke="#2ca02c" stroke-width="0.85"/>
<circle cx="296.54" cy="416.13" r="2.05" fill="#2ca02c" stroke="#2ca02c" stroke-width="0.85"/>
<circle cx="310.65" cy="406.58" r="2.05" fill="#2ca02c" stroke="#2ca02c" stroke-width="0.85"/>
<path d="M56.63 290.09 L70.74 292.71 L84.86 293.91 L98.97 296.06 L113.08 293.43 L127.19 295.34 L141.3 300.59 L155.42 295.34 L169.53 301.55 L183.64 297.25 L197.75 302.98 L211.86 300.11 L225.98 302.98 L240.09 301.55 L254.2 307.51 L268.31 304.65 L282.42 308.71 L296.54 321.12 L310.65 317.3" stroke="#ff7f0e" stroke-width="1.4" fill="none" stroke-linejoin="round" stroke-dasharray="4.6,2.0"/>
<polygon points="56.63,287.79 54.33,292.38 58.93,292.38" fill="#ff7f0e" stroke="#ff7f0e" stroke-width="0.85"/>
<polygon points="70.74,290.42 68.45,295.01 73.04,295.01" fill="#ff7f0e" stroke="#ff7f0e" stroke-width="0.85"/>
<polygon points="84.86,291.61 82.56,296.2 87.15,296.2" fill="#ff7f0e" stroke="#ff7f0e" stroke-width="0.85"/>
<polygon points="98.97,293.76 96.67,298.35 101.26,298.35" fill="#ff7f0e" stroke="#ff7f0e" stroke-width="0.85"/>
<polygon points="113.08,291.13 110.78,295.73 115.38,295.73" fill="#ff7f0e" stroke="#ff7f0e" stroke-width="0.85"/>
<polygon points="127.19,293.04 124.9,297.64 129.49,297.64" fill="#ff7f0e" stroke="#ff7f0e" stroke-width="0.85"/>
<polygon points="141.3,298.3 139.01,302.89 143.6,302.89" fill="#ff7f0e" stroke="#ff7f0e" stroke-width="0.85"/>
<polygon points="155.42,293.04 153.12,297.64 157.71,297.64" fill="#ff7f0e" stroke="#ff7f0e" stroke-width="0.85"/>
<polygon points="169.53,299.25 167.23,303.84 171.82,303.84" fill="#ff7f0e" stroke="#ff7f0e" stroke-width="0.85"/>
<polygon points="183.64,294.95 181.34,299.55 185.94,299.55" fill="#ff7f0e" stroke="#ff7f0e" stroke-width="0.85"/>
<polygon points="197.75,300.68 195.46,305.28 200.05,305.28" fill="#ff7f0e" stroke="#ff7f0e" stroke-width="0.85"/>
<polygon points="211.86,297.82 209.57,302.41 214.16,302.41" fill="#ff7f0e" stroke="#ff7f0e" stroke-width="0.85"/>
<polygon points="225.98,300.68 223.68,305.28 228.27,305.28" fill="#ff7f0e" stroke="#ff7f0e" stroke-width="0.85"/>
<polygon points="240.09,299.25 237.79,303.84 242.38,303.84" fill="#ff7f0e" stroke="#ff7f0e" stroke-width="0.85"/>
<polygon points="254.2,305.22 251.9,309.81 256.5,309.81" fill="#ff7f0e" stroke="#ff7f0e" stroke-width="0.85"/>
<polygon points="268.31,302.35 266.02,306.95 270.61,306.95" fill="#ff7f0e" stroke="#ff7f0e" stroke-width="0.85"/>
<polygon points="282.42,306.41 280.13,311 284.72,311" fill="#ff7f0e" stroke="#ff7f0e" stroke-width="0.85"/>
<polygon points="296.54,318.83 294.24,323.42 298.83,323.42" fill="#ff7f0e" stroke="#ff7f0e" stroke-width="0.85"/>
<polygon points="310.65,315.01 308.35,319.6 312.95,319.6" fill="#ff7f0e" stroke="#ff7f0e" stroke-width="0.85"/>
<path d="M56.63 291.04 L70.74 291.28 L84.86 292.48 L98.97 292.48 L113.08 294.62 L127.19 296.3 L141.3 297.97 L155.42 297.97 L169.53 297.49 L183.64 296.77 L197.75 296.77 L211.86 295.91 L225.98 300.11 L240.09 299.64 L254.2 306.56 L268.31 312.29 L282.42 304.17 L296.54 312.77 L310.65 328.28" stroke="#1f77b4" stroke-width="1.4" fill="none" stroke-linejoin="round" stroke-dasharray="4.6,2.0"/>
<rect x="54.58" y="288.99" width="4.1" height="4.1" fill="#1f77b4" stroke="#1f77b4" stroke-width="0.85"/>
<rect x="68.69" y="289.23" width="4.1" height="4.1" fill="#1f77b4" stroke="#1f77b4" stroke-width="0.85"/>
<rect x="82.81" y="290.43" width="4.1" height="4.1" fill="#1f77b4" stroke="#1f77b4" stroke-width="0.85"/>
<rect x="96.92" y="290.43" width="4.1" height="4.1" fill="#1f77b4" stroke="#1f77b4" stroke-width="0.85"/>
<rect x="111.03" y="292.57" width="4.1" height="4.1" fill="#1f77b4" stroke="#1f77b4" stroke-width="0.85"/>
<rect x="125.14" y="294.25" width="4.1" height="4.1" fill="#1f77b4" stroke="#1f77b4" stroke-width="0.85"/>
<rect x="139.25" y="295.92" width="4.1" height="4.1" fill="#1f77b4" stroke="#1f77b4" stroke-width="0.85"/>
<rect x="153.37" y="295.92" width="4.1" height="4.1" fill="#1f77b4" stroke="#1f77b4" stroke-width="0.85"/>
<rect x="167.48" y="295.44" width="4.1" height="4.1" fill="#1f77b4" stroke="#1f77b4" stroke-width="0.85"/>
<rect x="181.59" y="294.72" width="4.1" height="4.1" fill="#1f77b4" stroke="#1f77b4" stroke-width="0.85"/>
<rect x="195.7" y="294.72" width="4.1" height="4.1" fill="#1f77b4" stroke="#1f77b4" stroke-width="0.85"/>
<rect x="209.81" y="293.86" width="4.1" height="4.1" fill="#1f77b4" stroke="#1f77b4" stroke-width="0.85"/>
<rect x="223.93" y="298.06" width="4.1" height="4.1" fill="#1f77b4" stroke="#1f77b4" stroke-width="0.85"/>
<rect x="238.04" y="297.59" width="4.1" height="4.1" fill="#1f77b4" stroke="#1f77b4" stroke-width="0.85"/>
<rect x="252.15" y="304.51" width="4.1" height="4.1" fill="#1f77b4" stroke="#1f77b4" stroke-width="0.85"/>
<rect x="266.26" y="310.24" width="4.1" height="4.1" fill="#1f77b4" stroke="#1f77b4" stroke-width="0.85"/>
<rect x="280.37" y="302.12" width="4.1" height="4.1" fill="#1f77b4" stroke="#1f77b4" stroke-width="0.85"/>
<rect x="294.49" y="310.72" width="4.1" height="4.1" fill="#1f77b4" stroke="#1f77b4" stroke-width="0.85"/>
<rect x="308.6" y="326.23" width="4.1" height="4.1" fill="#1f77b4" stroke="#1f77b4" stroke-width="0.85"/>
</g>
<rect x="43.93" y="281.86" width="279.42" height="180.52" fill="none" stroke="#404040" stroke-width="1.0"/>
<path d="M56.63 462.38v3 M84.86 462.38v3 M113.08 462.38v3 M141.3 462.38v3 M169.53 462.38v3 M197.75 462.38v3 M225.98 462.38v3 M254.2 462.38v3 M282.42 462.38v3 M310.65 462.38v3 M43.93 440.48h-3 M43.93 416.61h-3 M43.93 392.74h-3 M43.93 368.87h-3 M43.93 344.99h-3 M43.93 321.12h-3 M43.93 297.25h-3" stroke="#404040" stroke-width="1.0" fill="none"/>
<text x="53.67" y="475.93" font-size="10.6" textLength="5.65" lengthAdjust="spacingAndGlyphs">2</text>
<text x="81.92" y="475.93" font-size="10.6" textLength="5.86" lengthAdjust="spacingAndGlyphs">4</text>
<text x="110.04" y="475.93" font-size="10.6" textLength="6.07" lengthAdjust="spacingAndGlyphs">6</text>
<text x="138.34" y="475.93" font-size="10.6" textLength="5.93" lengthAdjust="spacingAndGlyphs">8</text>
<text x="163.43" y="475.93" font-size="10.6" textLength="12.23" lengthAdjust="spacingAndGlyphs">10</text>
<text x="191.67" y="475.93" font-size="10.6" textLength="11.99" lengthAdjust="spacingAndGlyphs">12</text>
<text x="219.88" y="475.93" font-size="10.6" textLength="12.22" lengthAdjust="spacingAndGlyphs">14</text>
<text x="248.09" y="475.93" font-size="10.6" textLength="12.33" lengthAdjust="spacingAndGlyphs">16</text>
<text x="276.32" y="475.93" font-size="10.6" textLength="12.26" lengthAdjust="spacingAndGlyphs">18</text>
<text x="304.46" y="475.93" font-size="10.6" textLength="12.32" lengthAdjust="spacingAndGlyphs">20</text>
<text x="22.6" y="444.13" font-size="10.6" textLength="15.36" lengthAdjust="spacingAndGlyphs">0.3</text>
<text x="22.6" y="420.26" font-size="10.6" textLength="15.44" lengthAdjust="spacingAndGlyphs">0.4</text>
<text x="22.61" y="396.39" font-size="10.6" textLength="15.26" lengthAdjust="spacingAndGlyphs">0.5</text>
<text x="22.6" y="372.51" font-size="10.6" textLength="15.54" lengthAdjust="spacingAndGlyphs">0.6</text>
<text x="22.6" y="348.64" font-size="10.6" textLength="15.38" lengthAdjust="spacingAndGlyphs">0.7</text>
<text x="22.6" y="324.77" font-size="10.6" textLength="15.48" lengthAdjust="spacingAndGlyphs">0.8</text>
<text x="22.6" y="300.9" font-size="10.6" textLength="15.5" lengthAdjust="spacingAndGlyphs">0.9</text>
<text x="131.94" y="489.93" font-size="11.7" textLength="103.37" lengthAdjust="spacingAndGlyphs">Number of Layers</text>
<text transform="translate(16.68 372.12) rotate(-90)" x="-26.39" y="0" font-size="11.7" textLength="52.78" lengthAdjust="spacingAndGlyphs">Accuracy</text>
<rect x="48.58" y="395.68" width="67.9" height="61.3" rx="2.2" ry="2.2" fill="#fff" fill-opacity="0.8" stroke="#d6d6d6" stroke-width="0.9"/>
<path d="M52.93 403.83H72.73" stroke="#e377c2" stroke-width="1.4" fill="none" stroke-linecap="square"/>
<polygon points="62.83,401.53 62.31,403.12 60.64,403.12 61.99,404.1 61.48,405.69 62.83,404.71 64.18,405.69 63.67,404.1 65.02,403.12 63.35,403.12" fill="#e377c2" stroke="#e377c2" stroke-width="0.68"/>
<text x="81.03" y="407.13" font-size="10" textLength="19.45" lengthAdjust="spacingAndGlyphs">GAT</text>
<path d="M52.93 418.43H72.73" stroke="#2ca02c" stroke-width="1.4" fill="none" stroke-linecap="square"/>
<circle cx="62.83" cy="418.43" r="2.05" fill="#2ca02c" stroke="#2ca02c" stroke-width="0.85"/>
<text x="81.03" y="421.73" font-size="10" textLength="24.66" lengthAdjust="spacingAndGlyphs">GAT2</text>
<path d="M52.93 433.38H72.73" stroke="#ff7f0e" stroke-width="1.4" fill="none" stroke-dasharray="4.6,2.0"/>
<polygon points="62.83,431.08 60.53,435.68 65.13,435.68" fill="#ff7f0e" stroke="#ff7f0e" stroke-width="0.85"/>
<text x="81.03" y="436.68" font-size="10" textLength="25.13" lengthAdjust="spacingAndGlyphs">GTAT</text>
<path d="M52.93 447.78H72.73" stroke="#1f77b4" stroke-width="1.4" fill="none" stroke-dasharray="4.6,2.0"/>
<rect x="60.78" y="445.73" width="4.1" height="4.1" fill="#1f77b4" stroke="#1f77b4" stroke-width="0.85"/>
<text x="81.03" y="451.08" font-size="10" textLength="30.34" lengthAdjust="spacingAndGlyphs">GTAT2</text>
<text x="178.7" y="517.6" font-size="14.2" text-anchor="middle" class="cap">(C) Physics</text>
<path d="M417.14 281.6V462.36 M445.32 281.6V462.36 M473.51 281.6V462.36 M501.69 281.6V462.36 M529.87 281.6V462.36 M558.05 281.6V462.36 M586.23 281.6V462.36 M614.41 281.6V462.36 M642.6 281.6V462.36 M670.78 281.6V462.36 M404.46 448.78H683.46 M404.46 423.06H683.46 M404.46 397.35H683.46 M404.46 371.63H683.46 M404.46 345.91H683.46 M404.46 320.2H683.46 M404.46 294.48H683.46" stroke="#767676" stroke-width="0.9" stroke-dasharray="2.45,1.1" fill="none"/>
<clipPath id="clip3"><rect x="404.46" y="281.6" width="279" height="180.76"/></clipPath>
<g clip-path="url(#clip3)">
<path d="M417.14 290.88 L431.23 291.91 L445.32 294.74 L459.41 303.48 L473.51 301.68 L487.6 305.54 L501.69 305.8 L515.78 308.62 L529.87 312.74 L543.96 316.08 L558.05 318.14 L572.14 327.4 L586.23 352.34 L600.32 374.46 L614.41 415.61 L628.51 453.92 L642.6 446.98 L656.69 450.07 L670.78 450.58" stroke="#e377c2" stroke-width="1.4" fill="none" stroke-linejoin="round" stroke-linecap="square"/>
<polygon points="417.14,288.58 416.63,290.17 414.95,290.17 416.31,291.15 415.79,292.74 417.14,291.76 418.49,292.74 417.98,291.15 419.33,290.17 417.66,290.17" fill="#e377c2" stroke="#e377c2" stroke-width="0.68"/>
<polygon points="431.23,289.61 430.72,291.2 429.05,291.2 430.4,292.18 429.88,293.77 431.23,292.79 432.58,293.77 432.07,292.18 433.42,291.2 431.75,291.2" fill="#e377c2" stroke="#e377c2" stroke-width="0.68"/>
<polygon points="445.32,292.44 444.81,294.03 443.14,294.03 444.49,295.01 443.97,296.6 445.32,295.62 446.68,296.6 446.16,295.01 447.51,294.03 445.84,294.03" fill="#e377c2" stroke="#e377c2" stroke-width="0.68"/>
<polygon points="459.41,301.18 458.9,302.77 457.23,302.77 458.58,303.75 458.06,305.34 459.41,304.36 460.77,305.34 460.25,303.75 461.6,302.77 459.93,302.77" fill="#e377c2" stroke="#e377c2" stroke-width="0.68"/>
<polygon points="473.51,299.38 472.99,300.97 471.32,300.97 472.67,301.95 472.15,303.54 473.51,302.56 474.86,303.54 474.34,301.95 475.69,300.97 474.02,300.97" fill="#e377c2" stroke="#e377c2" stroke-width="0.68"/>
<polygon points="487.6,303.24 487.08,304.83 485.41,304.83 486.76,305.81 486.24,307.4 487.6,306.42 488.95,307.4 488.43,305.81 489.78,304.83 488.11,304.83" fill="#e377c2" stroke="#e377c2" stroke-width="0.68"/>
<polygon points="501.69,303.5 501.17,305.08 499.5,305.08 500.85,306.07 500.34,307.66 501.69,306.67 503.04,307.66 502.52,306.07 503.87,305.08 502.2,305.08" fill="#e377c2" stroke="#e377c2" stroke-width="0.68"/>
<polygon points="515.78,306.32 515.26,307.91 513.59,307.91 514.94,308.9 514.43,310.48 515.78,309.5 517.13,310.48 516.61,308.9 517.97,307.91 516.29,307.91" fill="#e377c2" stroke="#e377c2" stroke-width="0.68"/>
<polygon points="529.87,310.44 529.35,312.03 527.68,312.03 529.03,313.01 528.52,314.6 529.87,313.62 531.22,314.6 530.7,313.01 532.06,312.03 530.39,312.03" fill="#e377c2" stroke="#e377c2" stroke-width="0.68"/>
<polygon points="543.96,313.78 543.44,315.37 541.77,315.37 543.12,316.35 542.61,317.94 543.96,316.96 545.31,317.94 544.8,316.35 546.15,315.37 544.48,315.37" fill="#e377c2" stroke="#e377c2" stroke-width="0.68"/>
<polygon points="558.05,315.84 557.53,317.43 555.86,317.43 557.22,318.41 556.7,320 558.05,319.02 559.4,320 558.89,318.41 560.24,317.43 558.57,317.43" fill="#e377c2" stroke="#e377c2" stroke-width="0.68"/>
<polygon points="572.14,325.1 571.63,326.69 569.95,326.69 571.31,327.67 570.79,329.26 572.14,328.28 573.49,329.26 572.98,327.67 574.33,326.69 572.66,326.69" fill="#e377c2" stroke="#e377c2" stroke-width="0.68"/>
<polygon points="586.23,350.04 585.72,351.63 584.05,351.63 585.4,352.61 584.88,354.2 586.23,353.22 587.58,354.2 587.07,352.61 588.42,351.63 586.75,351.63" fill="#e377c2" stroke="#e377c2" stroke-width="0.68"/>
<polygon points="600.32,372.16 599.81,373.75 598.14,373.75 599.49,374.73 598.97,376.32 600.32,375.34 601.68,376.32 601.16,374.73 602.51,373.75 600.84,373.75" fill="#e377c2" stroke="#e377c2" stroke-width="0.68"/>
<polygon points="614.41,413.31 613.9,414.89 612.23,414.89 613.58,415.88 613.06,417.47 614.41,416.48 615.77,417.47 615.25,415.88 616.6,414.89 614.93,414.89" fill="#e377c2" stroke="#e377c2" stroke-width="0.68"/>
<polygon points="628.51,451.62 627.99,453.21 626.32,453.21 627.67,454.19 627.15,455.78 628.51,454.8 629.86,455.78 629.34,454.19 630.69,453.21 629.02,453.21" fill="#e377c2" stroke="#e377c2" stroke-width="0.68"/>
<polygon points="642.6,444.68 642.08,446.27 640.41,446.27 641.76,447.25 641.24,448.84 642.6,447.86 643.95,448.84 643.43,447.25 644.78,446.27 643.11,446.27" fill="#e377c2" stroke="#e377c2" stroke-width="0.68"/>
<polygon points="656.69,447.77 656.17,449.36 654.5,449.36 655.85,450.34 655.34,451.93 656.69,450.94 658.04,451.93 657.52,450.34 658.87,449.36 657.2,449.36" fill="#e377c2" stroke="#e377c2" stroke-width="0.68"/>
<polygon points="670.78,448.28 670.26,449.87 668.59,449.87 669.94,450.85 669.43,452.44 670.78,451.46 672.13,452.44 671.61,450.85 672.97,449.87 671.29,449.87" fill="#e377c2" stroke="#e377c2" stroke-width="0.68"/>
<path d="M417.14 290.88 L431.23 291.65 L445.32 291.65 L459.41 294.99 L473.51 303.48 L487.6 301.68 L501.69 303.74 L515.78 302.71 L529.87 304 L543.96 307.6 L558.05 313.25 L572.14 332.28 L586.23 364.17 L600.32 386.55 L614.41 415.61 L628.51 438.49 L642.6 444.67 L656.69 445.69 L670.78 450.58" stroke="#2ca02c" stroke-width="1.4" fill="none" stroke-linejoin="round" stroke-linecap="square"/>
<circle cx="417.14" cy="290.88" r="2.05" fill="#2ca02c" stroke="#2ca02c" stroke-width="0.85"/>
<circle cx="431.23" cy="291.65" r="2.05" fill="#2ca02c" stroke="#2ca02c" stroke-width="0.85"/>
<circle cx="445.32" cy="291.65" r="2.05" fill="#2ca02c" stroke="#2ca02c" stroke-width="0.85"/>
<circle cx="459.41" cy="294.99" r="2.05" fill="#2ca02c" stroke="#2ca02c" stroke-width="0.85"/>
<circle cx="473.51" cy="303.48" r="2.05" fill="#2ca02c" stroke="#2ca02c" stroke-width="0.85"/>
<circle cx="487.6" cy="301.68" r="2.05" fill="#2ca02c" stroke="#2ca02c" stroke-width="0.85"/>
<circle cx="501.69" cy="303.74" r="2.05" fill="#2ca02c" stroke="#2ca02c" stroke-width="0.85"/>
<circle cx="515.78" cy="302.71" r="2.05" fill="#2ca02c" stroke="#2ca02c" stroke-width="0.85"/>
<circle cx="529.87" cy="304" r="2.05" fill="#2ca02c" stroke="#2ca02c" stroke-width="0.85"/>
<circle cx="543.96" cy="307.6" r="2.05" fill="#2ca02c" stroke="#2ca02c" stroke-width="0.85"/>
<circle cx="558.05" cy="313.25" r="2.05" fill="#2ca02c" stroke="#2ca02c" stroke-width="0.85"/>
<circle cx="572.14" cy="332.28" r="2.05" fill="#2ca02c" stroke="#2ca02c" stroke-width="0.85"/>
<circle cx="586.23" cy="364.17" r="2.05" fill="#2ca02c" stroke="#2ca02c" stroke-width="0.85"/>
<circle cx="600.32" cy="386.55" r="2.05" fill="#2ca02c" stroke="#2ca02c" stroke-width="0.85"/>
<circle cx="614.41" cy="415.61" r="2.05" fill="#2ca02c" stroke="#2ca02c" stroke-width="0.85"/>
<circle cx="628.51" cy="438.49" r="2.05" fill="#2ca02c" stroke="#2ca02c" stroke-width="0.85"/>
<circle cx="642.6" cy="444.67" r="2.05" fill="#2ca02c" stroke="#2ca02c" stroke-width="0.85"/>
<circle cx="656.69" cy="445.69" r="2.05" fill="#2ca02c" stroke="#2ca02c" stroke-width="0.85"/>
<circle cx="670.78" cy="450.58" r="2.05" fill="#2ca02c" stroke="#2ca02c" stroke-width="0.85"/>
<path d="M417.14 290.88 L431.23 292.68 L445.32 300.65 L459.41 303.48 L473.51 304.77 L487.6 304.77 L501.69 307.34 L515.78 309.91 L529.87 316.85 L543.96 319.17 L558.05 317.37 L572.14 325.6 L586.23 339.48 L600.32 337.43 L614.41 357.23 L628.51 376 L642.6 407.38 L656.69 439.52 L670.78 443.12" stroke="#ff7f0e" stroke-width="1.4" fill="none" stroke-linejoin="round" stroke-dasharray="4.6,2.0"/>
<polygon points="417.14,288.58 414.85,293.18 419.44,293.18" fill="#ff7f0e" stroke="#ff7f0e" stroke-width="0.85"/>
<polygon points="431.23,290.38 428.94,294.98 433.53,294.98" fill="#ff7f0e" stroke="#ff7f0e" stroke-width="0.85"/>
<polygon points="445.32,298.36 443.03,302.95 447.62,302.95" fill="#ff7f0e" stroke="#ff7f0e" stroke-width="0.85"/>
<polygon points="459.41,301.18 457.12,305.78 461.71,305.78" fill="#ff7f0e" stroke="#ff7f0e" stroke-width="0.85"/>
<polygon points="473.51,302.47 471.21,307.06 475.8,307.06" fill="#ff7f0e" stroke="#ff7f0e" stroke-width="0.85"/>
<polygon points="487.6,302.47 485.3,307.06 489.89,307.06" fill="#ff7f0e" stroke="#ff7f0e" stroke-width="0.85"/>
<polygon points="501.69,305.04 499.39,309.63 503.98,309.63" fill="#ff7f0e" stroke="#ff7f0e" stroke-width="0.85"/>
<polygon points="515.78,307.61 513.48,312.21 518.07,312.21" fill="#ff7f0e" stroke="#ff7f0e" stroke-width="0.85"/>
<polygon points="529.87,314.56 527.57,319.15 532.17,319.15" fill="#ff7f0e" stroke="#ff7f0e" stroke-width="0.85"/>
<polygon points="543.96,316.87 541.66,321.46 546.26,321.46" fill="#ff7f0e" stroke="#ff7f0e" stroke-width="0.85"/>
<polygon points="558.05,315.07 555.75,319.66 560.35,319.66" fill="#ff7f0e" stroke="#ff7f0e" stroke-width="0.85"/>
<polygon points="572.14,323.3 569.85,327.89 574.44,327.89" fill="#ff7f0e" stroke="#ff7f0e" stroke-width="0.85"/>
<polygon points="586.23,337.19 583.94,341.78 588.53,341.78" fill="#ff7f0e" stroke="#ff7f0e" stroke-width="0.85"/>
<polygon points="600.32,335.13 598.03,339.72 602.62,339.72" fill="#ff7f0e" stroke="#ff7f0e" stroke-width="0.85"/>
<polygon points="614.41,354.93 612.12,359.52 616.71,359.52" fill="#ff7f0e" stroke="#ff7f0e" stroke-width="0.85"/>
<polygon points="628.51,373.71 626.21,378.3 630.8,378.3" fill="#ff7f0e" stroke="#ff7f0e" stroke-width="0.85"/>
<polygon points="642.6,405.08 640.3,409.67 644.89,409.67" fill="#ff7f0e" stroke="#ff7f0e" stroke-width="0.85"/>
<polygon points="656.69,437.23 654.39,441.82 658.98,441.82" fill="#ff7f0e" stroke="#ff7f0e" stroke-width="0.85"/>
<polygon points="670.78,440.83 668.48,445.42 673.07,445.42" fill="#ff7f0e" stroke="#ff7f0e" stroke-width="0.85"/>
<path d="M417.14 290.37 L431.23 291.39 L445.32 297.05 L459.41 299.37 L473.51 310.42 L487.6 310.68 L501.69 308.62 L515.78 314.8 L529.87 315.31 L543.96 313.25 L558.05 314.8 L572.14 319.43 L586.23 325.6 L600.32 344.63 L614.41 360.06 L628.51 389.37 L642.6 407.38 L656.69 426.41 L670.78 448.01" stroke="#1f77b4" stroke-width="1.4" fill="none" stroke-linejoin="round" stroke-dasharray="4.6,2.0"/>
<rect x="415.09" y="288.32" width="4.1" height="4.1" fill="#1f77b4" stroke="#1f77b4" stroke-width="0.85"/>
<rect x="429.18" y="289.34" width="4.1" height="4.1" fill="#1f77b4" stroke="#1f77b4" stroke-width="0.85"/>
<rect x="443.27" y="295" width="4.1" height="4.1" fill="#1f77b4" stroke="#1f77b4" stroke-width="0.85"/>
<rect x="457.36" y="297.32" width="4.1" height="4.1" fill="#1f77b4" stroke="#1f77b4" stroke-width="0.85"/>
<rect x="471.46" y="308.37" width="4.1" height="4.1" fill="#1f77b4" stroke="#1f77b4" stroke-width="0.85"/>
<rect x="485.55" y="308.63" width="4.1" height="4.1" fill="#1f77b4" stroke="#1f77b4" stroke-width="0.85"/>
<rect x="499.64" y="306.57" width="4.1" height="4.1" fill="#1f77b4" stroke="#1f77b4" stroke-width="0.85"/>
<rect x="513.73" y="312.75" width="4.1" height="4.1" fill="#1f77b4" stroke="#1f77b4" stroke-width="0.85"/>
<rect x="527.82" y="313.26" width="4.1" height="4.1" fill="#1f77b4" stroke="#1f77b4" stroke-width="0.85"/>
<rect x="541.91" y="311.2" width="4.1" height="4.1" fill="#1f77b4" stroke="#1f77b4" stroke-width="0.85"/>
<rect x="556" y="312.75" width="4.1" height="4.1" fill="#1f77b4" stroke="#1f77b4" stroke-width="0.85"/>
<rect x="570.09" y="317.38" width="4.1" height="4.1" fill="#1f77b4" stroke="#1f77b4" stroke-width="0.85"/>
<rect x="584.18" y="323.55" width="4.1" height="4.1" fill="#1f77b4" stroke="#1f77b4" stroke-width="0.85"/>
<rect x="598.27" y="342.58" width="4.1" height="4.1" fill="#1f77b4" stroke="#1f77b4" stroke-width="0.85"/>
<rect x="612.36" y="358.01" width="4.1" height="4.1" fill="#1f77b4" stroke="#1f77b4" stroke-width="0.85"/>
<rect x="626.46" y="387.32" width="4.1" height="4.1" fill="#1f77b4" stroke="#1f77b4" stroke-width="0.85"/>
<rect x="640.55" y="405.33" width="4.1" height="4.1" fill="#1f77b4" stroke="#1f77b4" stroke-width="0.85"/>
<rect x="654.64" y="424.36" width="4.1" height="4.1" fill="#1f77b4" stroke="#1f77b4" stroke-width="0.85"/>
<rect x="668.73" y="445.96" width="4.1" height="4.1" fill="#1f77b4" stroke="#1f77b4" stroke-width="0.85"/>
</g>
<rect x="404.46" y="281.6" width="279" height="180.76" fill="none" stroke="#404040" stroke-width="1.0"/>
<path d="M417.14 462.36v3 M445.32 462.36v3 M473.51 462.36v3 M501.69 462.36v3 M529.87 462.36v3 M558.05 462.36v3 M586.23 462.36v3 M614.41 462.36v3 M642.6 462.36v3 M670.78 462.36v3 M404.46 448.78h-3 M404.46 423.06h-3 M404.46 397.35h-3 M404.46 371.63h-3 M404.46 345.91h-3 M404.46 320.2h-3 M404.46 294.48h-3" stroke="#404040" stroke-width="1.0" fill="none"/>
<text x="414.18" y="475.91" font-size="10.6" textLength="5.65" lengthAdjust="spacingAndGlyphs">2</text>
<text x="442.39" y="475.91" font-size="10.6" textLength="5.86" lengthAdjust="spacingAndGlyphs">4</text>
<text x="470.47" y="475.91" font-size="10.6" textLength="6.07" lengthAdjust="spacingAndGlyphs">6</text>
<text x="498.72" y="475.91" font-size="10.6" textLength="5.93" lengthAdjust="spacingAndGlyphs">8</text>
<text x="523.77" y="475.91" font-size="10.6" textLength="12.23" lengthAdjust="spacingAndGlyphs">10</text>
<text x="551.97" y="475.91" font-size="10.6" textLength="11.99" lengthAdjust="spacingAndGlyphs">12</text>
<text x="580.13" y="475.91" font-size="10.6" textLength="12.22" lengthAdjust="spacingAndGlyphs">14</text>
<text x="608.31" y="475.91" font-size="10.6" textLength="12.33" lengthAdjust="spacingAndGlyphs">16</text>
<text x="636.49" y="475.91" font-size="10.6" textLength="12.26" lengthAdjust="spacingAndGlyphs">18</text>
<text x="664.59" y="475.91" font-size="10.6" textLength="12.32" lengthAdjust="spacingAndGlyphs">20</text>
<text x="383.14" y="452.43" font-size="10.6" textLength="15.29" lengthAdjust="spacingAndGlyphs">0.1</text>
<text x="383.14" y="426.71" font-size="10.6" textLength="15.22" lengthAdjust="spacingAndGlyphs">0.2</text>
<text x="383.13" y="401" font-size="10.6" textLength="15.36" lengthAdjust="spacingAndGlyphs">0.3</text>
<text x="383.13" y="375.28" font-size="10.6" textLength="15.44" lengthAdjust="spacingAndGlyphs">0.4</text>
<text x="383.14" y="349.56" font-size="10.6" textLength="15.26" lengthAdjust="spacingAndGlyphs">0.5</text>
<text x="383.13" y="323.85" font-size="10.6" textLength="15.54" lengthAdjust="spacingAndGlyphs">0.6</text>
<text x="383.13" y="298.13" font-size="10.6" textLength="15.38" lengthAdjust="spacingAndGlyphs">0.7</text>
<text x="492.26" y="489.91" font-size="11.7" textLength="103.37" lengthAdjust="spacingAndGlyphs">Number of Layers</text>
<text transform="translate(377.21 371.98) rotate(-90)" x="-26.39" y="0" font-size="11.7" textLength="52.78" lengthAdjust="spacingAndGlyphs">Accuracy</text>
<rect x="610.91" y="287" width="67.9" height="61.3" rx="2.2" ry="2.2" fill="#fff" fill-opacity="0.8" stroke="#d6d6d6" stroke-width="0.9"/>
<path d="M615.26 295.15H635.06" stroke="#e377c2" stroke-width="1.4" fill="none" stroke-linecap="square"/>
<polygon points="625.16,292.85 624.64,294.44 622.97,294.44 624.32,295.42 623.81,297.01 625.16,296.03 626.51,297.01 626,295.42 627.35,294.44 625.68,294.44" fill="#e377c2" stroke="#e377c2" stroke-width="0.68"/>
<text x="643.36" y="298.45" font-size="10" textLength="19.45" lengthAdjust="spacingAndGlyphs">GAT</text>
<path d="M615.26 309.75H635.06" stroke="#2ca02c" stroke-width="1.4" fill="none" stroke-linecap="square"/>
<circle cx="625.16" cy="309.75" r="2.05" fill="#2ca02c" stroke="#2ca02c" stroke-width="0.85"/>
<text x="643.36" y="313.05" font-size="10" textLength="24.66" lengthAdjust="spacingAndGlyphs">GAT2</text>
<path d="M615.26 324.7H635.06" stroke="#ff7f0e" stroke-width="1.4" fill="none" stroke-dasharray="4.6,2.0"/>
<polygon points="625.16,322.4 622.86,327 627.46,327" fill="#ff7f0e" stroke="#ff7f0e" stroke-width="0.85"/>
<text x="643.36" y="328" font-size="10" textLength="25.13" lengthAdjust="spacingAndGlyphs">GTAT</text>
<path d="M615.26 339.1H635.06" stroke="#1f77b4" stroke-width="1.4" fill="none" stroke-dasharray="4.6,2.0"/>
<rect x="623.11" y="337.05" width="4.1" height="4.1" fill="#1f77b4" stroke="#1f77b4" stroke-width="0.85"/>
<text x="643.36" y="342.4" font-size="10" textLength="30.34" lengthAdjust="spacingAndGlyphs">GTAT2</text>
<text x="539" y="517.6" font-size="14.2" text-anchor="middle" class="cap">(D) WikiCS</text>
</g>
</svg>
</body></html>
